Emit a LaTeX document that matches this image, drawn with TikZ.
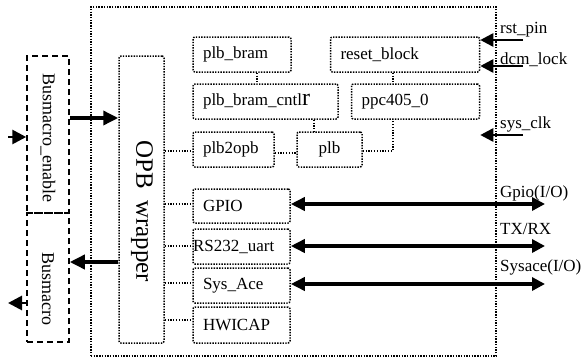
\documentclass[tikz,border=0pt]{standalone}
\usepackage{fontspec}
\setmainfont{Liberation Serif}
\usetikzlibrary{arrows.meta}
\tikzset{
  dotbox/.style={draw, line width=1.5pt, dash pattern=on 1.4pt off 1.3pt, rounded corners=2pt, inner xsep=10pt, inner ysep=0pt, align=left, minimum height=35pt, font=\fontsize{17}{20}\selectfont},
  dashbox/.style={draw, line width=1.5pt, dash pattern=on 6pt off 4pt, inner sep=0pt},
  vtext/.style={inner sep=0pt, rotate=-90, font=\fontsize{18}{20}\selectfont},
  dotlink/.style={line width=1.4pt, dash pattern=on 1.3pt off 1.5pt},
  bigarrow/.style={line width=3.5pt, -{Triangle[length=15pt,width=14pt]}},
  bigdouble/.style={line width=3.5pt, {Triangle[length=14pt,width=13pt]}-{Triangle[length=13pt,width=13pt]}},
  inarrow/.style={line width=2.6pt, -{Triangle[length=13pt,width=13pt]}},
  lbl/.style={font=\fontsize{17}{20}\selectfont, inner sep=0pt, anchor=base west},
}
\begin{document}
\begin{tikzpicture}[x=1pt,y=-1pt]
\useasboundingbox (0,0) rectangle (583,359);
% outer frame
\node[dotbox, minimum width=405pt, minimum height=349pt, rounded corners=0pt, inner sep=0pt] (outer) at (293.5,181.5) {};
% left blocks
\node[dotbox, minimum width=45pt, minimum height=287pt, inner sep=0pt] (opb) at (141.5,199.5) {};
\node[vtext, font=\fontsize{25}{28}\selectfont] (opbtext) at (142,211.5) {OPB\hspace{11pt}wrapper};
\node[dashbox, minimum width=42pt, minimum height=157pt] (bme) at (48,134.5) {};
\node[vtext] (bmetext) at (48,137.5) {Busmacro\_enable};
\node[dashbox, minimum width=42pt, minimum height=129pt] (bm) at (48,277.5) {};
\node[vtext] (bmtext) at (48,289) {Busmacro};
% upper blocks
\node[dotbox, text width=78pt] (bram) at (242,54.5) {plb\_bram};
\node[dotbox, text width=129pt] (reset) at (405,54.5) {reset\_block};
\node[dotbox, text width=125pt] (cntlr) at (265.5,101.5) {plb\_bram\_cntl{\fontsize{24}{24}\selectfont r}};
\node[dotbox, text width=108pt] (ppc) at (415.5,101.5) {ppc405\_0};
\node[dotbox, text width=61pt] (p2o) at (233.5,149.5) {plb2opb};
\node[dotbox, minimum width=65pt, inner xsep=0pt, align=center] (plb) at (329.5,149.5) {plb};
% lower blocks
\node[dotbox, text width=77pt, minimum height=34pt] (gpio) at (241.5,206) {GPIO};
\node[dotbox, text width=97pt, inner xsep=0pt] (uart) at (241.5,246.5) {RS232\_uart};
\node[dotbox, text width=77pt] (ace) at (241.5,285.5) {Sys\_Ace};
\node[dotbox, text width=77pt, minimum height=36pt] (hw) at (241.5,325) {HWICAP};
% dotted links
\draw[dotlink] (bram.south -| 257,0) -- (cntlr.north -| 257,0);
\draw[dotlink] (reset.south -| 393,0) -- (ppc.north -| 393,0);
\draw[dotlink] (cntlr.south -| 314,0) -- (plb.north -| 314,0);
\draw[dotlink, line width=2.2pt] (p2o.east |- 0,153) -- (plb.west |- 0,153);
\draw[dotlink] (plb.east |- 0,151) -| (ppc.south -| 393,0);
\draw[dotlink] (opb.east |- 0,151) -- (p2o.west |- 0,151);
\draw[dotlink] (opb.east |- 0,204) -- (gpio.west |- 0,204);
\draw[dotlink] (opb.east |- 0,246) -- (uart.west |- 0,246);
\draw[dotlink] (opb.east |- 0,283) -- (ace.west |- 0,283);
\draw[dotlink] (opb.east |- 0,320) -- (hw.west |- 0,320);
% busmacro arrows
\draw[bigarrow] (bme.east |- 0,118) -- (opb.west |- 0,118);
\draw[bigarrow] (opb.west |- 0,262) -- (bm.east |- 0,262);
\coordinate (bmein) at (8,137);
\draw[inarrow, line width=2.8pt, -{Triangle[length=14pt,width=14pt]}] (bmein) -- (bme.west |- bmein);
\coordinate (bmout) at (8,303);
\draw[inarrow, line width=2.8pt, -{Triangle[length=14pt,width=14pt]}] (bm.west |- bmout) -- (bmout);
% right inputs
\coordinate (rst) at (523,40);
\coordinate (dcm) at (523,66);
\coordinate (clk) at (523,135);
\node[lbl] (lrst) at (500,33) {rst\_pin};
\node[lbl] (ldcm) at (500,64) {dcm\_lock};
\node[lbl] (lclk) at (500,128) {sys\_clk};
\draw[inarrow] (rst) -- (reset.east |- rst);
\draw[inarrow] (dcm) -- (reset.east |- dcm);
\draw[inarrow] (clk) -- (reset.east |- clk);
% IO arrows
\coordinate (rx) at (545,0);
\draw[bigdouble] (gpio.east |- 0,204) -- (rx |- 0,204);
\draw[bigdouble] (uart.east |- 0,246) -- (rx |- 0,246);
\draw[bigdouble] (ace.east |- 0,284) -- (rx |- 0,284);
\node[lbl] (lgpio) at (500,197) {Gpio(I/O)};
\node[lbl] (ltx) at (500,234) {TX/RX};
\node[lbl] (lsys) at (500,271) {Sysace(I/O)};
\end{tikzpicture}
\end{document}
